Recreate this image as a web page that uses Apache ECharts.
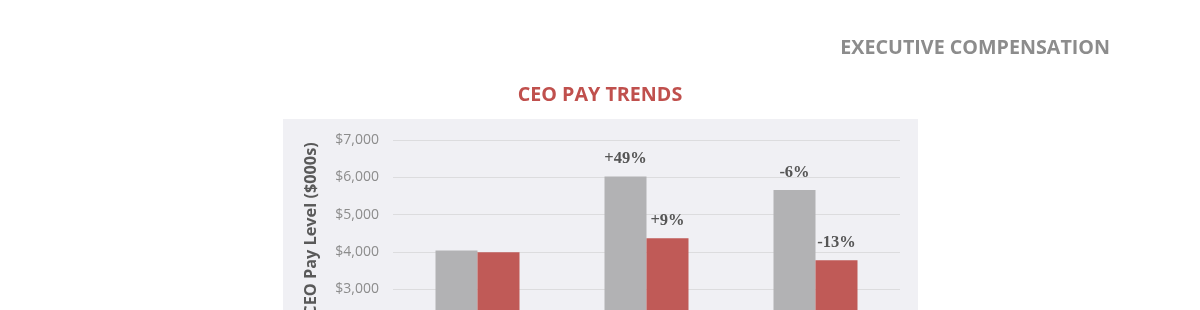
<!DOCTYPE html>
<html>
<head>
<meta charset="utf-8">
<script src="https://cdn.jsdelivr.net/npm/echarts@6/dist/echarts.min.js"></script>
<style>
html,body{margin:0;padding:0;background:#fff;}
#chart{width:1200px;height:310px;}
</style>
</head>
<body>
<div id="chart"></div>
<script>
const categories = ['Year 1', 'Year 2', 'Year 3'];
const seriesNames = ['Series A', 'Series B'];
const grayValues = [4040, 6020, 5660];
const redValues = [3990, 4370, 3780];
const grayLabels = ['', '+49%', '-6%'];
const redLabels = ['', '+9%', '-13%'];
const yTicks = { min: 0, max: 7000, interval: 1000 };

const chart = echarts.init(document.getElementById('chart'), null, { renderer: 'canvas' });

function mkData(values, labels) {
  return values.map((v, i) => ({ value: v, label: { formatter: labels[i] } }));
}

const labelStyle = {
  show: true,
  position: 'top',
  distance: 9,
  fontFamily: '"Liberation Serif", "DejaVu Serif", serif',
  fontWeight: 'bold',
  fontSize: 16.5,
  color: '#555555'
};

chart.setOption({
  animation: false,
  backgroundColor: '#ffffff',
  graphic: [
    { type: 'rect', z: -10, shape: { x: 283, y: 119, width: 635, height: 300 }, style: { fill: '#f0f0f4' } },
    { type: 'text', x: 1110, y: 48, style: { text: 'EXECUTIVE COMPENSATION', fill: '#8c8c8c', font: 'bold 19.7px "Open Sans", sans-serif', textAlign: 'right', textVerticalAlign: 'middle' } },
    { type: 'text', x: 600, y: 95, style: { text: 'CEO PAY TRENDS', fill: '#c0504d', font: 'bold 19.7px "Open Sans", sans-serif', textAlign: 'center', textVerticalAlign: 'middle' } },
    { type: 'text', x: 311, y: 229, rotation: Math.PI / 2, style: { text: 'CEO Pay Level ($000s)', fill: '#595959', font: 'bold 16.3px "Open Sans", sans-serif', textAlign: 'center', textVerticalAlign: 'middle' } }
  ],
  grid: { left: 393, width: 507, top: 140, height: 261.3, containLabel: false, outerBoundsMode: 'none' },
  xAxis: {
    type: 'category',
    data: categories,
    axisLine: { lineStyle: { color: '#d9d9d9' } },
    axisTick: { show: false },
    axisLabel: { color: '#8c8c8c', fontSize: 14, fontFamily: '"Open Sans", sans-serif' }
  },
  yAxis: {
    type: 'value',
    min: yTicks.min,
    max: yTicks.max,
    interval: yTicks.interval,
    axisLine: { show: false },
    axisTick: { show: false },
    axisLabel: {
      color: '#8c8c8c',
      fontSize: 14,
      fontFamily: '"Open Sans", sans-serif',
      margin: 14,
      formatter: v => '$' + v.toLocaleString('en-US')
    },
    splitLine: { lineStyle: { color: '#dcdcde', width: 1 } }
  },
  series: [
    { name: seriesNames[0], type: 'bar', data: mkData(grayValues, grayLabels), barWidth: 42, barGap: '0%', itemStyle: { color: '#b2b2b4' }, label: labelStyle },
    { name: seriesNames[1], type: 'bar', data: mkData(redValues, redLabels), barWidth: 42, barGap: '0%', itemStyle: { color: '#c05a57' }, label: labelStyle }
  ]
});
</script>
</body>
</html>
